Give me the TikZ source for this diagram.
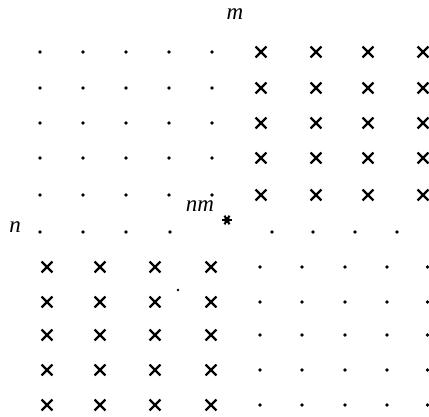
\documentclass[tikz,border=0pt]{standalone}
\usepackage{fontspec}
\setmainfont{Liberation Serif}
\usetikzlibrary{shapes.misc}
\begin{document}
\begin{tikzpicture}[x=1pt,y=-1pt,
  dotpt/.style={circle,fill=black,inner sep=0pt,minimum size=3.6pt},
  crs/.style={cross out,draw=black,line width=2.3pt,inner sep=0pt,minimum size=8.5pt},
  lbl/.style={font=\fontsize{23}{25}\selectfont\itshape,inner sep=0pt}]
\useasboundingbox (0,0) rectangle (429,417);
% top block
\foreach \y [count=\r] in {52,88,123,158,195}{
  \foreach \x [count=\c] in {40,83,126,169,212}{
    \node[dotpt] (t\r d\c) at (\x,\y) {};}
  \foreach \x [count=\c] in {261,316,368,423}{
    \node[crs] (t\r x\c) at (\x,\y) {};}
}
% n row
\foreach \x [count=\c] in {40,83,126,170,272,313,355,397}{
  \node[dotpt] (n\c) at (\x,232) {};}
% bottom block
\foreach \y [count=\r] in {267,302,335,370,405}{
  \foreach \x [count=\c] in {47,100,155,211}{
    \node[crs] (b\r x\c) at (\x,\y) {};}
  \foreach \x [count=\c] in {260,302,345,387,427.5}{
    \node[dotpt] (b\r d\c) at (\x,\y) {};}
}
% labels
\node[lbl] (m) at (235,14) {m};
\node[lbl] (n) at (15,227) {n};
\node[lbl] (nm) at (200,206) {nm};
% star
\node[circle,fill=black,inner sep=0pt,minimum size=6pt] (star) at (227,220) {};
\foreach \a in {0,60,120}{
  \draw[line width=2pt] (star.center) ++(\a:5) -- ++(\a+180:10);}
% stray speck
\node[circle,fill=black,inner sep=0pt,minimum size=2.8pt] (speck) at (178,290) {};
\end{tikzpicture}
\end{document}
